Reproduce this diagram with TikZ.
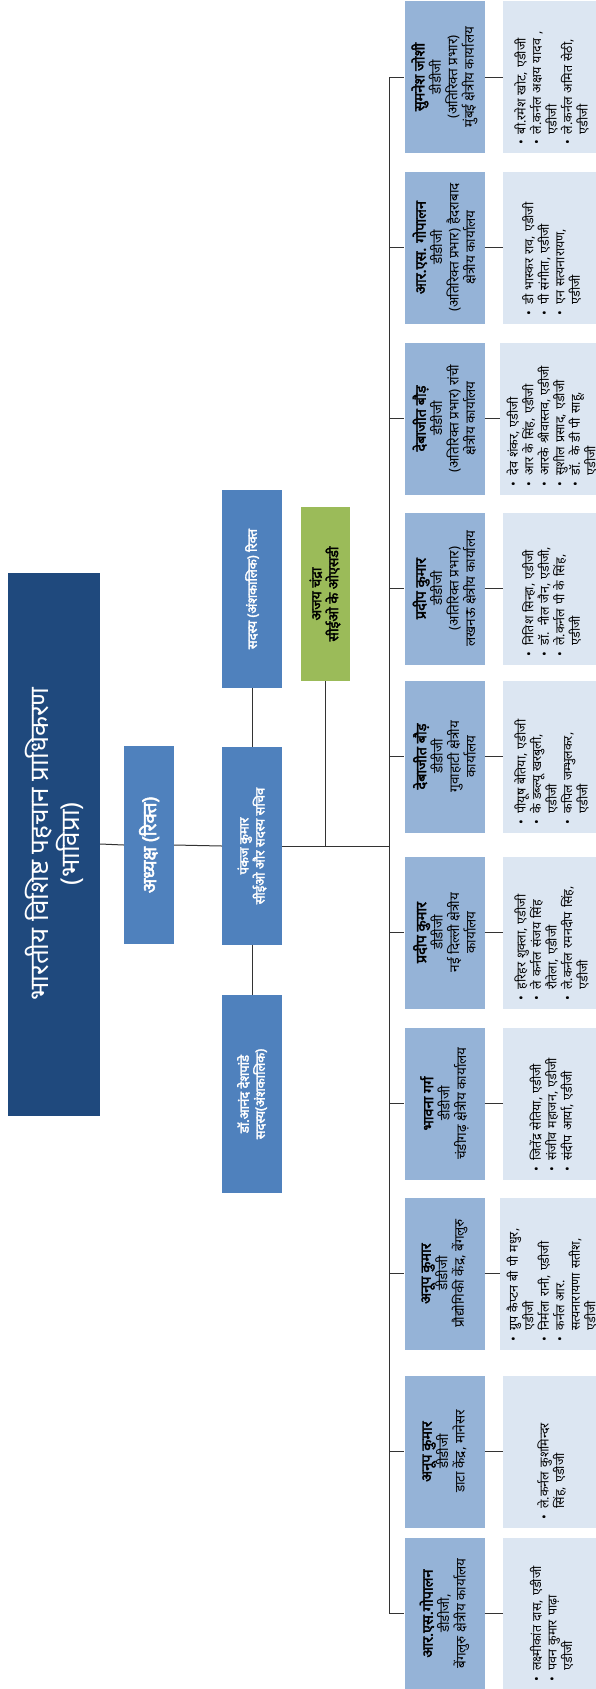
\documentclass[tikz,border=0pt]{standalone}
\usepackage{fontspec}
\setmainfont{Noto Sans}[Script=Devanagari, BoldFont={Noto Sans}, BoldFeatures={FakeBold=2.5}]
\usepackage{enumitem}
\setlist[itemize]{leftmargin=13pt, labelsep=6pt, nosep, label=\textbullet}
\usetikzlibrary{positioning}
\definecolor{uidark}{RGB}{31,73,125}
\definecolor{uiblue}{RGB}{79,129,189}
\definecolor{uigreen}{RGB}{155,187,89}
\definecolor{rowblue}{RGB}{149,179,215}
\definecolor{rowpale}{RGB}{220,230,242}
\newcommand{\who}[1]{{\bfseries\fontsize{14.5}{16.5}\selectfont #1}}

\begin{document}
\begin{tikzpicture}[
    x=1pt, y=-1pt,
    box/.style   ={rotate=90, inner sep=2pt, align=center},
    head/.style  ={box, fill=uidark, text=white, minimum width=543pt,
                   minimum height=92pt, font=\fontsize{26}{31}\selectfont},
    post/.style  ={box, fill=uiblue, text=white, minimum width=198pt,
                   minimum height=60pt, font=\bfseries\fontsize{13}{16}\selectfont},
    osd/.style   ={box, fill=uigreen, text=black, minimum width=174pt,
                   minimum height=49pt, font=\bfseries\fontsize{14}{17}\selectfont},
    office/.style={box, fill=rowblue, minimum width=152pt, minimum height=80pt,
                   font=\fontsize{13.5}{16.5}\selectfont},
    staff/.style ={box, fill=rowpale, minimum width=152pt, minimum height=93pt,
                   text width=140pt, align=left, font=\fontsize{12.5}{15.5}\selectfont},
    link/.style  ={draw=black!80, line width=1pt},
]
\useasboundingbox (0,0) rectangle (596,1689);
% top level
\node[head] (uidai) at (54,844) {भारतीय विशिष्ट पहचान प्राधिकरण\\(भाविप्रा)};
\node[post, minimum height=50pt, font=\bfseries\fontsize{19}{22}\selectfont] (chair) at (149,845) {अध्यक्ष (रिक्त)};
\node[post] (ceo)  at (252,846)  {पंकज कुमार\\सीईओ और सदस्य सचिव};
\node[post] (mem1) at (252,589)  {सदस्य (अंशकालिक) रिक्त};
\node[post] (mem2) at (252,1094) {डॉ.आनंद देशपांडे\\सदस्य(अंशकालिक)};
\node[osd]  (osd)  at (325,594)  {अजय चंद्रा\\सीईओ के ओएसडी};
\coordinate (bus) at (389,846);
% regional offices
\node[office] (off1)  at (444.5,77)    {\who{सुमनेश जोशी}\\डीडीजी\\(अतिरिक्त प्रभार)\\मुंबई क्षेत्रीय कार्यालय};
\node[office] (off2)  at (444.5,247.5) {\who{आर.एस. गोपालन}\\डीडीजी\\(अतिरिक्त प्रभार) हैदराबाद\\क्षेत्रीय कार्यालय};
\node[office] (off3)  at (444.5,418.5) {\who{देबाजीत बौड़}\\डीडीजी\\(अतिरिक्त प्रभार) रांची\\क्षेत्रीय कार्यालय};
\node[office] (off4)  at (444.5,588.5) {\who{प्रदीप कुमार}\\डीडीजी\\(अतिरिक्त प्रभार)\\लखनऊ क्षेत्रीय कार्यालय};
\node[office] (off5)  at (444.5,756.5) {\who{देबाजीत बौड़}\\डीडीजी\\गुवाहाटी क्षेत्रीय\\कार्यालय};
\node[office] (off6)  at (444.5,932.5) {\who{प्रदीप कुमार}\\डीडीजी\\नई दिल्ली क्षेत्रीय\\कार्यालय};
\node[office] (off7)  at (444.5,1103.5) {\who{भावना गर्ग}\\डीडीजी\\चंडीगढ़ क्षेत्रीय कार्यालय};
\node[office] (off8)  at (444.5,1273.5) {\who{अनूप कुमार}\\डीडीजी\\प्रौद्योगिकी केंद्र, बेंगलुरु};
\node[office] (off9)  at (444.5,1451.5) {\who{अनूप कुमार}\\डीडीजी\\डाटा केंद्र, मानेसर};
\node[office] (off10) at (444.5,1613.5) {\who{आर.एस.गोपालन}\\डीडीजी,\\बेंगलुरु क्षेत्रीय कार्यालय};
% staff lists
\node[staff] (stf1) at (549.5,77) {\begin{itemize}
  \item बी.रमेश खोट, एडीजी
  \item ले.कर्नल अक्षय यादव ,\newline एडीजी
  \item ले.कर्नल अमित सेठी,\newline एडीजी
\end{itemize}};
\node[staff] (stf2) at (549.5,247.5) {\begin{itemize}
  \item डी भास्कर राव, एडीजी
  \item पी संगीता, एडीजी
  \item एन सत्यनारायण,\newline एडीजी
\end{itemize}};
\node[staff] (stf3) at (549.5,418.5) {\begin{itemize}
  \item देव शंकर, एडीजी
  \item आर के सिंह, एडीजी
  \item आरके श्रीवास्तव, एडीजी
  \item सुशील प्रसाद, एडीजी
  \item डॉ. के डी पी साहू,\newline एडीजी
\end{itemize}};
\node[staff] (stf4) at (549.5,588.5) {\begin{itemize}
  \item नितिश सिन्हा, एडीजी
  \item डॉ. नील जैन, एडीजी,
  \item ले.कर्नल पी के सिंह,\newline एडीजी
\end{itemize}};
\node[staff] (stf5) at (549.5,756.5) {\begin{itemize}
  \item पीयूष बेतिया, एडीजी
  \item के डब्ल्यू खरबुली,\newline एडीजी
  \item कपिल जम्भुलकर,\newline एडीजी
\end{itemize}};
\node[staff] (stf6) at (549.5,932.5) {\begin{itemize}
  \item हरिहर शुक्ला, एडीजी
  \item ले कर्नल संजय सिंह\newline रौतेला, एडीजी
  \item ले.कर्नल रमनदीप सिंह,\newline एडीजी
\end{itemize}};
\node[staff] (stf7) at (549.5,1103.5) {\begin{itemize}
  \item जितेंद्र सेतिया, एडीजी
  \item संजीव महाजन, एडीजी
  \item संदीप आर्या, एडीजी
\end{itemize}};
\node[staff] (stf8) at (549.5,1273.5) {\begin{itemize}
  \item ग्रुप कैप्टन बी पी मधुर,\newline एडीजी
  \item निर्मला रानी, एडीजी
  \item कर्नल आर.\newline सत्यनारायणा सतीश,\newline एडीजी
\end{itemize}};
\node[staff] (stf9) at (549.5,1451.5) {\begin{itemize}
  \item ले.कर्नल कुशमिन्दर\newline सिंह, एडीजी
\end{itemize}};
\node[staff] (stf10) at (549.5,1613.5) {\begin{itemize}
  \item लक्ष्मीकांत दास, एडीजी
  \item पवन कुमार पाढ़ा\newline एडीजी
\end{itemize}};
% connectors
\draw[link] (uidai.south) -- (chair.north);
\draw[link] (chair.south) -- (ceo.north);
\draw[link] (ceo.south) -- (bus);
\draw[link] (mem1.west) -- (ceo.east);
\draw[link] (ceo.west) -- (mem2.east);
\draw[link] (osd.west) -- (osd.west |- bus);
\draw[link] (bus |- off1.north) -- (bus |- off10.north);
\foreach \i in {1,...,10}{
  \draw[link] (bus |- off\i.north) -- (off\i.north);
  \draw[link] (off\i.south) -- (stf\i.north);
}
\end{tikzpicture}
\end{document}
